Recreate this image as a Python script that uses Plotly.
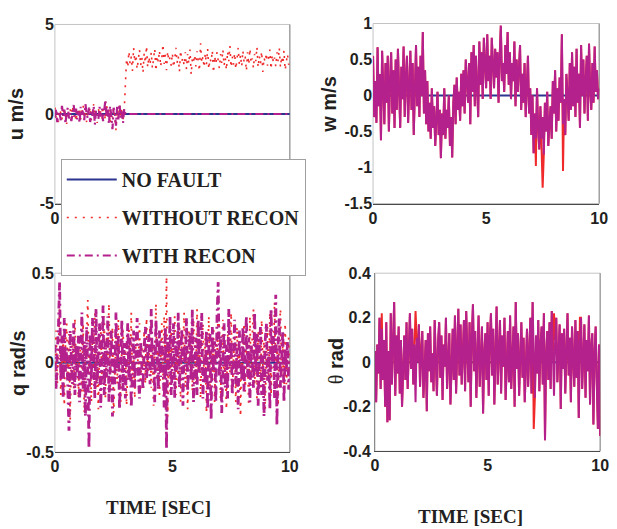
import plotly.graph_objects as go

# ---------------------------------------------------------------- data
DT = 0.05
t = [round(DT * i, 2) for i in range(201)]          # sample times, s

# true (fault-free) response: trimmed at zero
t_nf = [0.0, 10.0]
nf = [0.0, 0.0]

# u, m/s -- without reconstruction (sensor bias appears at t = 3 s)
u_without = [
    0.35, -0.20, 0.10, -0.45, 0.25, 0.05, -0.30, 0.40, -0.10, 0.20, -0.55, 0.15, -0.05, 0.30, -0.25, 0.45, -0.15, 0.05, -0.40, 0.20,
    -0.10, 0.35, -0.30, 0.15, 0.50, -0.20, 0.05, -0.45, 0.25, -0.05, 0.40, -0.35, 0.10, 0.55, -0.15, 0.20, -0.50, 0.30, -0.05, 0.15,
    -0.25, 0.45, 0.05, -0.35, 0.60, -0.10, 0.25, -0.55, 0.15, -0.20, 0.35, -0.40, -0.90, 0.10, -0.25, 0.50, -0.15, 0.30, -0.35, 0.20,
    2.00, 3.10, 2.60, 3.50, 2.80, 3.20, 2.40, 3.70, 2.90, 3.30, 2.50, 3.05, 3.60, 2.70, 3.15, 2.30, 3.40, 2.85, 3.80, 2.60,
    3.20, 2.75, 3.45, 2.55, 3.00, 3.65, 2.40, 3.25, 2.90, 3.55, 2.65, 3.10, 3.90, 2.80, 3.30, 2.45, 3.50, 2.95, 3.15, 2.70,
    3.40, 2.60, 3.05, 3.70, 2.85, 3.25, 2.35, 3.55, 2.95, 3.15, 2.70, 3.45, 2.50, 3.35, 2.80, 3.60, 2.20, 3.10, 2.90, 3.30,
    2.65, 3.50, 3.00, 2.40, 3.95, 2.85, 3.20, 2.60, 3.40, 2.75, 3.65, 2.50, 3.10, 2.90, 3.55, 2.30, 3.25, 2.80, 3.45, 3.00,
    2.55, 3.35, 2.85, 3.60, 2.70, 3.15, 2.45, 3.50, 2.95, 3.80, 2.60, 3.20, 2.75, 3.40, 2.50, 3.05, 3.70, 2.80, 3.30, 2.65,
    3.55, 2.90, 3.20, 2.40, 3.45, 2.75, 3.65, 2.85, 3.10, 2.55, 3.35, 2.95, 3.75, 2.60, 3.25, 2.80, 3.50, 2.35, 3.15, 2.90,
    3.40, 2.70, 3.05, 3.60, 2.50, 3.30, 2.85, 3.15, 2.65, 3.45, 2.95, 3.70, 2.60, 3.20, 2.80, 3.55, 2.45, 3.10, 3.35, 2.75, 3.00,
]

# u, m/s -- with reconstruction: noisy before the fault, reconstructed to zero after
u_with_before = [
    -0.20, 0.30, -0.45, 0.15, 0.05, -0.35, 0.45, -0.10, 0.25, -0.55, 0.10, 0.35, -0.25, 0.05, -0.40, 0.20, 0.50, -0.15, 0.30, -0.30,
    0.15, -0.50, 0.40, -0.05, 0.25, -0.35, 0.55, 0.00, -0.25, 0.35, -0.45, 0.15, -0.10, 0.45, -0.60, 0.20, 0.05, -0.30, 0.40, -0.15,
    0.30, -0.40, 0.10, 0.80, -0.20, 0.25, -0.55, 0.45, -0.10, -0.85, 0.35, 0.05, -0.65, 0.40, -0.30, 0.55, -0.20, 0.15, -0.50, 0.30,
]
u_with_after = [0.0] * 141

# w, m/s -- with reconstruction
w_with = [
    0.55, -0.30, 0.20, -0.38, 0.67, -0.15, 0.30, -0.62, 0.62, 0.05, -0.40, 0.45, -0.10, 0.55, -0.50, 0.20, 0.60, -0.25, 0.35, -0.45,
    0.50, -0.20, 0.65, 0.10, -0.45, 0.40, -0.05, 0.68, -0.30, 0.25, 0.55, -0.38, 0.15, 0.62, -0.20, 0.45, -0.55, 0.30, 0.70, -0.15,
    0.40, -0.30, 0.55, 0.00, 0.88, -0.25, 0.35, -0.40, 0.20, -0.50, -0.10, -0.60, 0.10, -0.45, -0.15, -0.70, -0.30, 0.05, -0.55, -0.20,
    -0.87, -0.25, -0.55, 0.10, -0.60, -0.20, -0.45, 0.00, -0.70, -0.30, -0.86, -0.10, 0.15, -0.40, 0.25, -0.20, 0.05, -0.35, 0.30, -0.15,
    0.35, -0.25, 0.50, 0.10, -0.10, 0.45, -0.40, 0.60, 0.05, 0.70, -0.15, 0.55, 0.20, -0.30, 0.75, 0.15, 0.60, -0.05, 0.80, 0.30,
    0.10, 0.85, 0.20, 0.55, -0.05, 0.80, 0.35, 0.10, 0.65, 0.25, 0.60, -0.10, 0.55, 0.97, 0.20, 0.45, 0.05, 0.70, 0.30, 0.88,
    0.15, 0.60, -0.05, 0.45, 0.20, 0.75, -0.15, 0.50, 0.05, 0.35, 0.70, -0.20, 0.30, -0.10, 0.45, -0.30, 0.20, 0.55, -0.25, 0.10,
    -0.55, 0.00, -0.80, -0.25, -0.60, 0.10, -0.45, -0.75, -0.15, -0.60, -0.30, -0.82, -0.10, -0.50, 0.05, -0.70, -0.35, -0.15, -0.60, 0.20,
    -0.25, 0.35, -0.50, 0.10, -0.35, 0.25, -0.10, 0.85, -0.40, -0.05, -0.55, 0.30, 0.00, -0.35, 0.45, -0.20, 0.60, -0.15, 0.40, -0.30,
    0.65, -0.10, 0.30, -0.45, 0.70, 0.00, 0.50, -0.25, 0.20, 0.55, -0.35, 0.72, 0.10, -0.20, 0.45, -0.10, 0.68, 0.05, 0.35, -0.05, 0.10,
]
# w without reconstruction: same trace apart from these fault spikes (time -> value)
w_without_spikes = {7.20: -0.98, 7.50: -1.28, 8.40: -1.05}

# q, rad/s
q_without = [
    -0.05, 0.18, -0.12, 0.08, 0.30, -0.18, 0.02, 0.14, -0.24, 0.10, 0.22, -0.06, 0.16, -0.32, 0.05, 0.12, -0.15, 0.25, -0.02, 0.09,
    -0.20, 0.12, 0.02, -0.16, 0.22, -0.28, 0.06, 0.15, 0.35, -0.08, 0.10, -0.22, 0.18, -0.04, 0.28, -0.14, 0.04, -0.26, 0.12, 0.20,
    -0.10, 0.05, 0.26, -0.20, 0.14, -0.02, 0.33, -0.16, 0.08, 0.20, -0.28, 0.02, 0.15, -0.12, 0.24, -0.06, -0.22, 0.10, 0.18, -0.04,
    0.12, -0.24, 0.06, 0.20, -0.08, 0.28, -0.14, 0.04, -0.20, 0.16, 0.10, -0.04, 0.22, -0.16, 0.08, -0.02, 0.18, -0.12, 0.25, -0.06,
    0.04, 0.20, -0.14, 0.10, -0.24, 0.16, 0.33, -0.08, 0.12, -0.18, 0.06, 0.22, -0.10, 0.26, -0.04, 0.48, -0.30, 0.08, -0.16, 0.18,
    -0.06, 0.14, 0.26, -0.18, 0.04, -0.10, 0.20, -0.22, 0.12, 0.02, 0.28, -0.14, 0.06, -0.26, 0.18, -0.02, 0.10, -0.16, 0.24, 0.08,
    -0.12, 0.30, -0.04, 0.16, -0.20, 0.08, 0.22, -0.10, 0.14, -0.28, 0.04, 0.26, -0.14, 0.10, -0.06, 0.20, -0.22, 0.12, 0.02, 0.30,
    0.18, -0.20, 0.08, 0.24, -0.12, 0.04, -0.26, 0.16, 0.10, -0.06, 0.28, -0.18, 0.02, 0.14, -0.22, 0.20, -0.08, 0.12, -0.30, 0.06,
    -0.04, 0.22, -0.16, 0.10, 0.02, -0.24, 0.26, -0.08, 0.14, 0.30, -0.12, 0.04, -0.20, 0.18, 0.08, -0.14, 0.24, -0.02, 0.12, -0.26,
    0.06, 0.20, -0.10, 0.28, -0.18, 0.12, 0.02, 0.34, -0.14, 0.08, -0.24, 0.16, 0.30, -0.06, 0.10, -0.20, 0.22, -0.12, 0.04, 0.14, -0.08,
]
q_with = [
    0.10, -0.15, 0.05, 0.20, 0.45, -0.10, 0.15, -0.20, 0.25, -0.05, 0.08, -0.25, -0.38, 0.18, 0.02, -0.12, 0.22, -0.18, 0.10, -0.08,
    0.15, -0.22, 0.05, 0.28, -0.15, 0.12, -0.30, 0.20, -0.05, -0.48, 0.16, -0.10, 0.25, 0.03, -0.20, 0.30, -0.12, 0.08, 0.22, -0.25,
    0.06, 0.32, -0.18, 0.12, -0.08, 0.26, -0.22, 0.02, 0.18, -0.30, 0.10, -0.12, 0.28, -0.04, 0.15, -0.26, 0.07, 0.24, -0.16, 0.11,
    -0.20, 0.05, 0.22, -0.10, 0.14, -0.25, 0.03, 0.18, -0.14, 0.09, 0.25, -0.06, -0.20, 0.12, 0.01, -0.15, 0.08, 0.20, -0.09, 0.04,
    0.16, -0.12, 0.30, -0.04, 0.10, -0.22, 0.24, 0.06, -0.15, 0.18, -0.08, 0.12, 0.02, -0.25, 0.20, -0.48, 0.14, -0.06, 0.26, -0.18,
    0.08, 0.22, -0.20, 0.12, -0.04, 0.28, -0.14, 0.05, 0.19, -0.24, 0.10, -0.02, 0.25, -0.16, 0.06, 0.17, -0.10, 0.30, -0.22, 0.04,
    0.14, -0.18, 0.24, -0.06, 0.10, 0.28, -0.20, 0.03, -0.12, 0.18, -0.26, 0.08, 0.16, -0.32, 0.20, -0.05, 0.12, -0.22, 0.26, 0.45,
    -0.08, 0.15, -0.28, 0.04, 0.22, -0.14, 0.10, -0.20, 0.30, -0.02, 0.12, -0.18, 0.06, 0.24, -0.12, 0.08, -0.26, 0.18, 0.02, -0.10,
    0.20, -0.16, 0.06, 0.26, -0.08, 0.14, -0.22, 0.10, 0.02, -0.14, 0.28, -0.06, 0.16, -0.24, 0.08, 0.20, -0.18, 0.04, -0.30, 0.12,
    0.22, -0.10, 0.06, -0.26, 0.30, 0.00, 0.15, -0.20, 0.38, -0.35, 0.10, 0.25, -0.14, 0.05, 0.18, -0.22, 0.08, -0.05, 0.12, -0.15, 0.02,
]

# theta, rad -- with reconstruction
th_with = [
    0.05, -0.18, 0.08, -0.05, 0.20, -0.12, 0.15, -0.08, 0.10, -0.20, 0.18, -0.27, 0.05, -0.26, 0.22, -0.10, 0.08, 0.27, -0.15, 0.12,
    -0.05, 0.16, -0.14, 0.10, -0.20, 0.03, 0.12, -0.08, 0.18, -0.12, 0.05, 0.22, -0.03, 0.15, -0.10, 0.08, -0.18, 0.11, 0.00, 0.17,
    -0.11, 0.06, 0.14, -0.16, 0.02, 0.10, -0.22, 0.13, -0.04, 0.16, -0.09, 0.04, -0.13, 0.19, 0.01, -0.15, 0.09, 0.18, -0.07, 0.12,
    -0.17, 0.08, -0.02, 0.20, -0.12, 0.06, 0.13, -0.19, 0.03, 0.15, -0.08, 0.21, -0.14, 0.10, 0.24, -0.06, 0.17, -0.10, 0.02, 0.19,
    -0.13, 0.23, 0.05, -0.09, 0.18, -0.20, 0.12, 0.26, -0.04, 0.14, -0.16, 0.09, 0.21, -0.11, 0.07, 0.16, -0.23, 0.04, 0.13, -0.08,
    0.18, -0.15, 0.11, 0.22, -0.06, 0.15, -0.19, 0.08, 0.25, -0.10, 0.03, 0.19, -0.14, 0.12, -0.02, 0.20, -0.17, 0.06, 0.14, -0.09,
    0.21, -0.12, 0.05, 0.16, -0.20, 0.27, -0.03, 0.13, -0.15, 0.09, 0.18, -0.07, 0.11, -0.18, 0.04, 0.15, -0.11, 0.07, 0.20, -0.14,
    0.27, 0.02, -0.16, 0.12, -0.05, 0.19, -0.13, 0.08, 0.16, -0.10, 0.22, -0.35, 0.03, 0.14, -0.08, 0.18, -0.12, 0.23, 0.05, -0.15,
    0.10, 0.20, -0.09, 0.04, 0.17, -0.21, 0.13, -0.03, 0.15, -0.14, 0.08, 0.22, -0.06, 0.11, -0.18, 0.16, 0.02, -0.11, 0.19, -0.07,
    0.14, -0.25, 0.09, 0.20, -0.12, 0.05, 0.17, -0.16, 0.10, -0.04, 0.21, -0.19, 0.07, 0.13, -0.28, 0.04, 0.16, -0.10, -0.30, 0.08, -0.33,
]
# theta without reconstruction: differs from the trace above only at these samples
th_without_peaks = {0.30: 0.22, 1.80: 0.23, 7.05: -0.30, 7.95: 0.22, 9.10: 0.20}

y_ticks = {
    "u": [-5, 0, 5],
    "w": [-1.5, -1, -0.5, 0, 0.5, 1],
    "q": [-0.5, 0, 0.5],
    "th": [-0.4, -0.2, 0, 0.2, 0.4],
}
x_ticks = [0, 5, 10]


def with_overrides(base, overrides):
    out = list(base)
    for tk, v in overrides.items():
        out[int(round(tk / DT))] = v
    return out


u_with = u_with_before + u_with_after
w_without = with_overrides(w_with, w_without_spikes)
th_without = with_overrides(th_with, th_without_peaks)

for arr in (u_without, u_with, w_with, q_without, q_with, th_with):
    assert len(arr) == len(t), len(arr)

# ---------------------------------------------------------------- styling
W, H = 617, 529
BLUE = "#2b3590"
RED = "#f02a2a"
MAG = "#b4208c"
INK = "#231f20"
DOT = "2px,6px"
DASHDOT = "8px,4px,2px,4px"


def px_x(a, b):
    return [a / W, b / W]


def px_y(top, bottom):
    return [1 - bottom / H, 1 - top / H]


# plot areas in pixels: (left, right, top, bottom)
areas = {
    1: (52, 292, 17, 202),
    2: (377, 608, 16, 202),
    3: (52, 292, 274, 459),
    4: (379, 609, 274, 458),
}
ranges = {1: [-5, 5], 2: [-1.5, 1], 3: [-0.5, 0.5], 4: [-0.4, 0.4]}
yt = {1: y_ticks["u"], 2: y_ticks["w"], 3: y_ticks["q"], 4: y_ticks["th"]}

fig = go.Figure()


def add(panel, x, y, name, color, width, dash, show):
    sfx = "" if panel == 1 else str(panel)
    fig.add_trace(go.Scatter(
        x=x, y=y, mode="lines", name=name,
        line=dict(color=color, width=width, dash=dash),
        xaxis="x" + sfx, yaxis="y" + sfx,
        showlegend=show, legendgroup=name, hoverinfo="skip",
    ))


# u
add(1, t_nf, nf, "NO FAULT", BLUE, 2, "solid", True)
add(1, t, u_without, "WITHOUT RECON", RED, 1.6, DOT, True)
add(1, t, u_with, "WITH RECON", MAG, 2.2, DASHDOT, True)
# w
add(2, t_nf, nf, "NO FAULT", BLUE, 2, "solid", False)
add(2, t, w_without, "WITHOUT RECON", RED, 2, "solid", False)
add(2, t, w_with, "WITH RECON", MAG, 2, "solid", False)
# q
add(3, t_nf, nf, "NO FAULT", BLUE, 2, "solid", False)
add(3, t, q_without, "WITHOUT RECON", RED, 1.8, DOT, False)
add(3, t, q_with, "WITH RECON", MAG, 2.8, DASHDOT, False)
# theta
add(4, t_nf, nf, "NO FAULT", BLUE, 2, "solid", False)
add(4, t, th_without, "WITHOUT RECON", RED, 2, "solid", False)
add(4, t, th_with, "WITH RECON", MAG, 2, "solid", False)

tickfont = dict(family="Liberation Sans", size=16, color=INK, weight="bold")


def fmt(v):
    return "%g" % v


layout = dict(
    width=W, height=H,
    margin=dict(l=0, r=0, t=0, b=0),
    paper_bgcolor="white", plot_bgcolor="white",
    showlegend=True,
    legend=dict(
        x=58 / W, y=1 - 156 / H, xanchor="left", yanchor="top",
        bgcolor="white", bordercolor="#a0a0a0", borderwidth=1,
        font=dict(family="Liberation Serif", size=20, color=INK, weight="bold"),
        tracegroupgap=9, itemwidth=50,
    ),
)
shapes = []
for p, (l, r, tp, bt) in areas.items():
    sfx = "" if p == 1 else str(p)
    # the u panel's time axis sits behind the legend, only its origin label shows
    xt_text = [fmt(v) if (p != 1 or v == 0) else "" for v in x_ticks]
    layout["xaxis" + sfx] = dict(
        domain=px_x(l, r), range=[0, 10], anchor="y" + sfx,
        tickvals=x_ticks, ticktext=xt_text,
        showgrid=False, zeroline=False, showline=True, linecolor="#4a4a4a",
        linewidth=1, ticks="", tickfont=tickfont,
    )
    layout["yaxis" + sfx] = dict(
        domain=px_y(tp, bt), range=ranges[p], anchor="x" + sfx,
        tickvals=yt[p], ticktext=[fmt(v) for v in yt[p]],
        showgrid=False, zeroline=False, showline=(p == 4), linecolor="#8a8a8a",
        ticks="", tickfont=tickfont,
    )
    shapes.append(dict(
        type="rect", xref="x%s domain" % sfx, yref="y%s domain" % sfx,
        x0=0, x1=1, y0=0, y1=1, layer="below",
        line=dict(color="#c4c4c4", width=1),
    ))
    shapes.append(dict(
        type="line", xref="x%s domain" % sfx, yref="y%s domain" % sfx,
        x0=1, x1=1, y0=0, y1=1, layer="below",
        line=dict(color="#8c8c8c", width=1),
    ))
layout["shapes"] = shapes

sans_b = dict(family="Liberation Sans", size=20, color=INK, weight="bold")
serif_b = dict(family="Liberation Serif", size=19, color=INK, weight="bold")


def note(text, x, y, font, angle=0):
    return dict(text=text, x=x / W, y=1 - y / H, xref="paper", yref="paper",
                showarrow=False, textangle=angle, font=font,
                xanchor="center", yanchor="middle")


layout["annotations"] = [
    note("u m/s", 13, 110, sans_b, -90),
    note("w m/s", 332, 100, sans_b, -90),
    note("q rad/s", 15, 367, sans_b, -90),
    note("<span style='font-family:Liberation Serif;font-weight:normal'>θ</span> rad",
         339, 365, sans_b, -90),
    note("TIME [SEC]", 158, 516, serif_b),
    note("TIME [SEC]", 477, 525, serif_b),
]

fig.update_layout(**layout)
fig.write_html("out.html")
